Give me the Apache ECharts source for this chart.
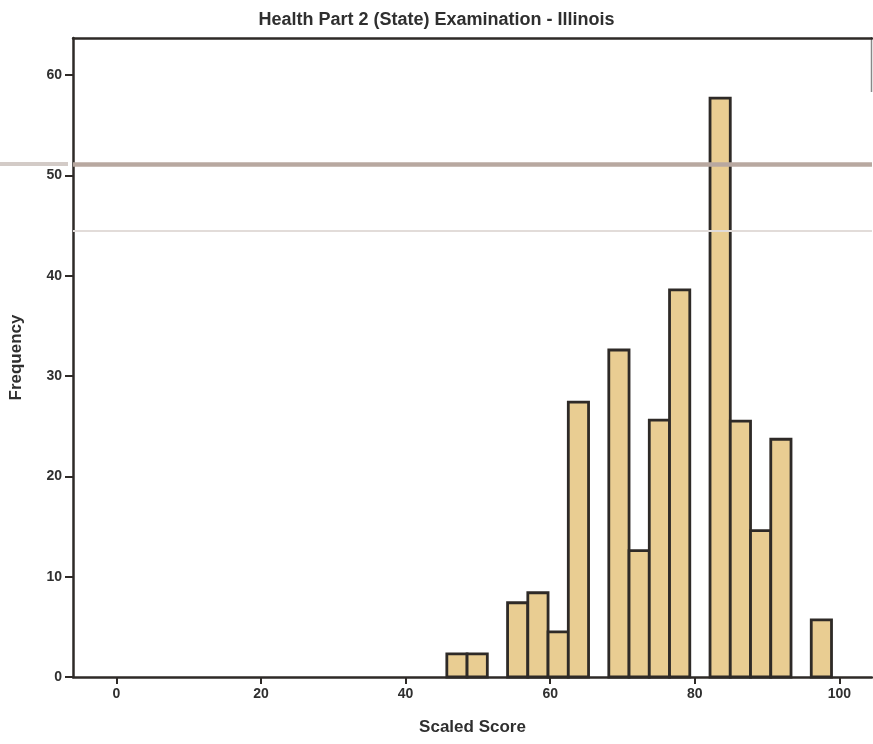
<!DOCTYPE html>
<html>
<head>
<meta charset="utf-8">
<script src="https://cdn.jsdelivr.net/npm/echarts@6/dist/echarts.min.js"></script>
<style>
  html, body { margin: 0; padding: 0; background: #fff; }
  #histogram { width: 873px; height: 744px; }
</style>
</head>
<body>
<div id="histogram"></div>
<script>
// histogram bins (scaled score) and counts
const binStarts = [45.7, 48.5, 54.1, 56.9, 59.7, 62.5, 68.1, 70.9, 73.7, 76.5, 82.1, 84.9, 87.7, 90.5, 96.1];
const frequencies = [2.3, 2.3, 7.4, 8.4, 4.5, 27.4, 32.6, 12.6, 25.6, 38.6, 57.7, 25.5, 14.6, 23.7, 5.7];
const binWidth = 2.8;
const xTicks = [0, 20, 40, 60, 80, 100];
const scanLines = [51.1, 44.5]; // stray horizontal lines from the scanned page

const font = "'Liberation Sans', Arial, sans-serif";
const ink = '#2e2a27';

const myChart = echarts.init(document.getElementById('histogram'));

const bars = binStarts.map((s, i) => [s, s + binWidth, frequencies[i]]);

const option = {
  animation: false,
  backgroundColor: '#fff',
  title: {
    text: 'Health Part 2 (State) Examination - Illinois',
    left: 'center',
    top: 6,
    textStyle: { fontFamily: font, fontWeight: 'bold', fontSize: 18, color: '#2f2f2f' },
  },
  grid: { left: 72, right: 1, top: 38, bottom: 67 },
  xAxis: [
    {
      type: 'value',
      min: -6,
      max: 104.5,
      name: 'Scaled Score',
      nameLocation: 'middle',
      nameGap: 42,
      nameTextStyle: { fontFamily: font, fontWeight: 'bold', fontSize: 17, color: '#2f2f2f' },
      splitLine: { show: false },
      axisLine: { onZero: false, lineStyle: { color: ink, width: 2.5 } },
      axisTick: { customValues: xTicks, length: 7, lineStyle: { color: ink, width: 2 } },
      axisLabel: {
        customValues: xTicks,
        fontFamily: font, fontWeight: 'bold', fontSize: 14, color: '#2f2f2f', margin: 10,
      },
    },
    {
      type: 'value',
      position: 'top',
      min: -6,
      max: 104.5,
      axisLine: { show: true, onZero: false, lineStyle: { color: ink, width: 2.5 } },
      axisTick: { show: false },
      axisLabel: { show: false },
      splitLine: { show: false },
    },
  ],
  yAxis: {
    type: 'value',
    min: 0,
    max: 63.7,
    interval: 10,
    name: 'Frequency',
    nameLocation: 'middle',
    nameGap: 48,
    nameTextStyle: { fontFamily: font, fontWeight: 'bold', fontSize: 17, color: '#2f2f2f' },
    splitLine: { show: false },
    axisLine: { show: true, onZero: false, lineStyle: { color: ink, width: 2.5 } },
    axisTick: { show: true, length: 8, lineStyle: { color: ink, width: 2 } },
    axisLabel: {
      showMaxLabel: false,
      fontFamily: font, fontWeight: 'bold', fontSize: 14, color: '#2f2f2f', margin: 11,
    },
  },
  graphic: [
    // left stub of the scan band, outside the plot frame
    { type: 'rect', shape: { x: 0, y: 162, width: 68, height: 4 }, style: { fill: '#d3cbc7' }, silent: true },
    // partial right border
    { type: 'line', shape: { x1: 871.5, y1: 37, x2: 871.5, y2: 92 }, style: { stroke: '#888', lineWidth: 1.5 }, silent: true },
  ],
  series: [
    {
      // scan lines sit behind the bars
      type: 'line',
      data: [],
      z: 1,
      silent: true,
      markLine: {
        silent: true,
        symbol: 'none',
        label: { show: false },
        data: [
          { yAxis: scanLines[0], lineStyle: { color: '#b8a8a0', width: 4.5, type: 'solid' } },
          { yAxis: scanLines[1], lineStyle: { color: '#e2dcd9', width: 2, type: 'solid' } },
        ],
      },
    },
    {
      type: 'custom',
      data: bars,
      z: 3,
      renderItem: (params, api) => {
        const p0 = api.coord([api.value(0), api.value(2)]);
        const p1 = api.coord([api.value(1), 0]);
        return {
          type: 'rect',
          shape: { x: p0[0], y: p0[1], width: p1[0] - p0[0], height: p1[1] - p0[1] },
          style: { fill: '#e9cd92', stroke: ink, lineWidth: 2.8 },
        };
      },
    },
  ],
};

myChart.setOption(option);
</script>
</body>
</html>
